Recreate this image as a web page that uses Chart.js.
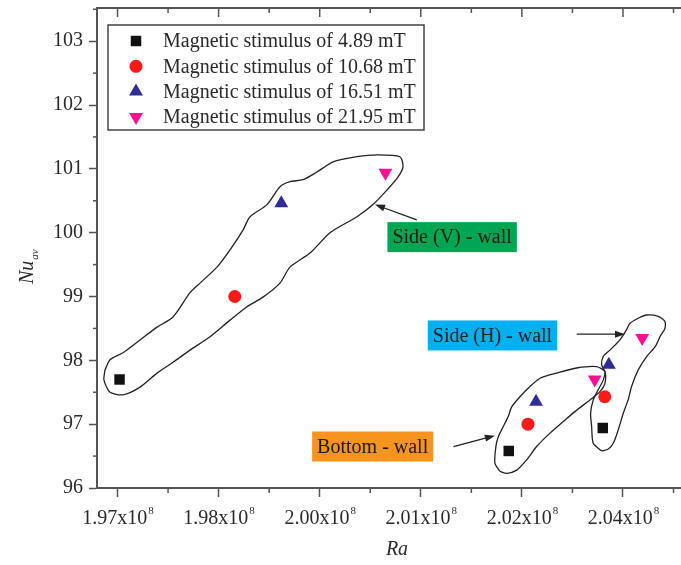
<!DOCTYPE html>
<html>
<head>
<meta charset="utf-8">
<script src="https://cdn.jsdelivr.net/npm/chart.js@4.4.1/dist/chart.umd.min.js"></script>
<style>
body{margin:0;background:#fff}
canvas{display:block}
</style>
</head>
<body>
<canvas id="myNuChart" width="681" height="565"></canvas>
<script>
// Ra axis runs in plot units, labels are the ones printed on the figure
const xTickValues = [1.97, 1.98, 1.99, 2.00, 2.01, 2.02];
const xTickLabels = ['1.97x10', '1.98x10', '2.00x10', '2.01x10', '2.02x10', '2.04x10'];
const xTickExp = '8';
const xMinorTicks = [1.975, 1.985, 1.995, 2.005, 2.015, 2.025];
const yTickValues = [96, 97, 98, 99, 100, 101, 102, 103];
const yMinorTicks = [96.5, 97.5, 98.5, 99.5, 100.5, 101.5, 102.5, 103.5];

const seriesNames = ['Magnetic stimulus of 4.89 mT', 'Magnetic stimulus of 10.68 mT',
    'Magnetic stimulus of 16.51 mT', 'Magnetic stimulus of 21.95 mT'];
// each series: side (V) wall, bottom wall, side (H) wall
const ra489 = [1.9702, 2.0087, 2.0180];
const nu489 = [97.70, 96.58, 96.94];
const ra1068 = [1.9816, 2.0106, 2.0182];
const nu1068 = [99.00, 97.00, 97.43];
const ra1651 = [1.9862, 2.0114, 2.0186];
const nu1651 = [100.46, 97.35, 97.93];
const ra2195 = [1.9965, 2.0172, 2.0219];
const nu2195 = [100.94, 97.70, 98.35];

// hand drawn outlines round each wall group
const sideVRa = [1.96876, 1.96926, 1.97054, 1.97223, 1.97391, 1.97549, 1.97717, 1.97816, 1.97984, 1.98113,
    1.98241, 1.98311, 1.98479, 1.98607, 1.98706, 1.98835, 1.98973, 1.99132, 1.99369, 1.99567,
    1.99794, 1.99824, 1.99774, 1.99666, 1.99527, 1.99369, 1.99102, 1.98904, 1.98706, 1.98607,
    1.98439, 1.98281, 1.98113, 1.97915, 1.97717, 1.97549, 1.97391, 1.97223, 1.97054, 1.96926,
    1.96866, 1.96876];
const sideVNu = [97.85, 98.01, 98.12, 98.32, 98.52, 98.68, 99.06, 99.21, 99.46, 99.73,
    100.04, 100.25, 100.44, 100.72, 100.80, 100.83, 100.95, 101.11, 101.19, 101.22,
    101.19, 101.03, 100.87, 100.67, 100.44, 100.25, 100.00, 99.68, 99.46, 99.21,
    98.99, 98.84, 98.63, 98.37, 98.16, 97.97, 97.80, 97.58, 97.46, 97.50,
    97.69, 97.85];
const bottomRa = [2.00783, 2.00733, 2.00743, 2.00766, 2.00815, 2.00865, 2.00899, 2.00981, 2.01080, 2.01179,
    2.01344, 2.01542, 2.01740, 2.01822, 2.01822, 2.01772, 2.01674, 2.01542, 2.01409, 2.01278,
    2.01146, 2.01047, 2.00949, 2.00850, 2.00783];
const bottomNu = [96.26, 96.39, 96.65, 96.80, 96.96, 97.12, 97.27, 97.43, 97.59, 97.72,
    97.80, 97.88, 97.90, 97.82, 97.64, 97.51, 97.38, 97.22, 97.04, 96.86,
    96.65, 96.44, 96.28, 96.23, 96.26];
const sideHRa = [2.01789, 2.01706, 2.01690, 2.01680, 2.01706, 2.01755, 2.01805, 2.01822, 2.01789, 2.01805,
    2.01871, 2.01970, 2.02036, 2.02069, 2.02151, 2.02234, 2.02349, 2.02415, 2.02415, 2.02366,
    2.02317, 2.02234, 2.02151, 2.02085, 2.02051, 2.02003, 2.01953, 2.01904, 2.01855, 2.01789];
const sideHNu = [96.58, 96.70, 96.96, 97.17, 97.38, 97.54, 97.69, 97.82, 97.93, 98.06,
    98.16, 98.32, 98.48, 98.58, 98.66, 98.71, 98.69, 98.61, 98.50, 98.37,
    98.21, 98.06, 97.85, 97.59, 97.38, 97.17, 96.91, 96.70, 96.61, 96.58];

// wall labels and their arrows
const noteText = ['Side (V) - wall', 'Side (H) - wall', 'Bottom - wall'];
const noteRa = [2.00310, 2.00709, 1.99524];
const noteNu = [99.93, 98.39, 96.65];
const arrowFromRa = [1.99960, 2.01542, 2.00324];
const arrowFromNu = [100.20, 98.41, 96.65];
const arrowToRa = [1.99547, 2.02020, 2.00733];
const arrowToNu = [100.44, 98.41, 96.82];

const SERIF = "'Liberation Serif', 'Times New Roman', serif";
const AXIS = '#555';
const noteColors = ['#00a651', '#00b0f0', '#f7941d'];
const markerColors = ['#111111', '#ff1a1a', '#2e2e96', '#ff0f96'];
const markerStyles = ['rect', 'circle', 'triangle', 'triangle'];
const markerSizes = [7.4, 6.5, 8, 8];
const markerRot = [0, 0, 0, 180];

function pts(xs, ys) {
    return xs.map((x, i) => ({x: x, y: ys[i]}));
}

const markerData = [pts(ra489, nu489), pts(ra1068, nu1068), pts(ra1651, nu1651), pts(ra2195, nu2195)];
const datasets = [];
for (let i = 0; i < seriesNames.length; i++) {
    datasets.push({
        label: seriesNames[i],
        data: markerData[i],
        pointStyle: markerStyles[i],
        pointRadius: markerSizes[i],
        pointRotation: markerRot[i],
        backgroundColor: markerColors[i],
        borderColor: markerColors[i],
        borderWidth: 0,
        showLine: false
    });
}
[pts(sideVRa, sideVNu), pts(bottomRa, bottomNu), pts(sideHRa, sideHNu)].forEach(d => {
    datasets.push({
        label: 'outline',
        data: d,
        showLine: true,
        pointRadius: 0,
        borderColor: '#222',
        borderWidth: 1.3,
        tension: 0.25,
        fill: false
    });
});

const extras = {
    id: 'extras',
    afterDraw(chart) {
        const ctx = chart.ctx;
        const xs = chart.scales.x, ys = chart.scales.y;
        const a = chart.chartArea;
        ctx.save();
        ctx.strokeStyle = AXIS;
        ctx.lineWidth = 1.5;
        // minor ticks, outside on bottom and left
        xMinorTicks.forEach(v => {
            const px = xs.getPixelForValue(v);
            ctx.beginPath(); ctx.moveTo(px, a.bottom); ctx.lineTo(px, a.bottom + 5); ctx.stroke();
            ctx.beginPath(); ctx.moveTo(px, a.top); ctx.lineTo(px, a.top + 5); ctx.stroke();
        });
        xTickValues.forEach(v => {
            const px = xs.getPixelForValue(v);
            ctx.beginPath(); ctx.moveTo(px, a.top); ctx.lineTo(px, a.top + 9); ctx.stroke();
        });
        yMinorTicks.forEach(v => {
            const py = ys.getPixelForValue(v);
            ctx.beginPath(); ctx.moveTo(a.left, py); ctx.lineTo(a.left - 4, py); ctx.stroke();
        });

        // x tick labels with superscript exponent
        ctx.fillStyle = '#2a2a2a';
        ctx.textBaseline = 'alphabetic';
        ctx.textAlign = 'left';
        xTickValues.forEach((v, i) => {
            const px = xs.getPixelForValue(v);
            ctx.font = '20px ' + SERIF;
            const w1 = ctx.measureText(xTickLabels[i]).width;
            ctx.font = '11px ' + SERIF;
            const w2 = ctx.measureText(xTickExp).width;
            const x0 = px - (w1 + w2) / 2;
            ctx.font = '20px ' + SERIF;
            ctx.fillText(xTickLabels[i], x0, a.bottom + 36);
            ctx.font = '11px ' + SERIF;
            ctx.fillText(xTickExp, x0 + w1 + 1, a.bottom + 26);
        });

        // axis titles
        ctx.font = 'italic 20px ' + SERIF;
        ctx.textAlign = 'center';
        ctx.fillText('Ra', 397, 555);
        ctx.save();
        ctx.translate(33, 284);
        ctx.rotate(-Math.PI / 2);
        ctx.textAlign = 'left';
        ctx.fillText('Nu', 0, 0);
        const wn = ctx.measureText('Nu').width;
        ctx.font = 'italic 11px ' + SERIF;
        ctx.fillText('av', wn + 1, 5);
        ctx.restore();

        // arrows
        ctx.strokeStyle = '#222';
        ctx.fillStyle = '#222';
        ctx.lineWidth = 1.3;
        for (let i = 0; i < noteText.length; i++) {
            const x1 = xs.getPixelForValue(arrowFromRa[i]), y1 = ys.getPixelForValue(arrowFromNu[i]);
            const x2 = xs.getPixelForValue(arrowToRa[i]), y2 = ys.getPixelForValue(arrowToNu[i]);
            const ang = Math.atan2(y2 - y1, x2 - x1);
            ctx.beginPath(); ctx.moveTo(x1, y1);
            ctx.lineTo(x2 - 7 * Math.cos(ang), y2 - 7 * Math.sin(ang)); ctx.stroke();
            ctx.beginPath();
            ctx.moveTo(x2, y2);
            ctx.lineTo(x2 - 10 * Math.cos(ang) + 3.5 * Math.sin(ang), y2 - 10 * Math.sin(ang) - 3.5 * Math.cos(ang));
            ctx.lineTo(x2 - 10 * Math.cos(ang) - 3.5 * Math.sin(ang), y2 - 10 * Math.sin(ang) + 3.5 * Math.cos(ang));
            ctx.closePath(); ctx.fill();
        }

        // wall label boxes
        ctx.font = '20px ' + SERIF;
        ctx.textAlign = 'center';
        ctx.textBaseline = 'middle';
        for (let i = 0; i < noteText.length; i++) {
            const cx = xs.getPixelForValue(noteRa[i]), cy = ys.getPixelForValue(noteNu[i]);
            const w = ctx.measureText(noteText[i]).width + 10;
            ctx.fillStyle = noteColors[i];
            ctx.fillRect(cx - w / 2, cy - 15, w, 30);
            ctx.fillStyle = '#1a1a1a';
            ctx.fillText(noteText[i], cx, cy + 1);
        }

        // legend box
        const lx = 108, ly = 25, lw = 316, lh = 105;
        ctx.fillStyle = '#fff';
        ctx.fillRect(lx, ly, lw, lh);
        ctx.strokeStyle = '#444';
        ctx.lineWidth = 1.5;
        ctx.strokeRect(lx, ly, lw, lh);
        ctx.textAlign = 'left';
        for (let i = 0; i < seriesNames.length; i++) {
            const ry = ly + 16 + i * 25.3;
            ctx.fillStyle = markerColors[i];
            ctx.strokeStyle = markerColors[i];
            Chart.helpers.drawPoint(ctx, {pointStyle: markerStyles[i], radius: markerSizes[i],
                rotation: markerRot[i], borderWidth: 0}, lx + 28, ry);
            ctx.fillStyle = '#2a2a2a';
            ctx.fillText(seriesNames[i], lx + 55, ry + 1);
        }
        ctx.restore();
    }
};

const ctx = document.getElementById('myNuChart').getContext('2d');
new Chart(ctx, {
    type: 'scatter',
    data: {datasets: datasets},
    options: {
        responsive: false,
        animation: false,
        devicePixelRatio: 1,
        layout: {autoPadding: false, padding: 0},
        plugins: {legend: {display: false}, tooltip: {enabled: false}},
        scales: {
            x: {
                type: 'linear', position: 'bottom',
                min: 1.96797, max: 2.02574,
                afterBuildTicks: s => { s.ticks = xTickValues.map(v => ({value: v})); },
                afterFit: s => { s.height = 77; },
                ticks: {display: false},
                grid: {drawOnChartArea: false, tickLength: 9, tickColor: AXIS, tickWidth: 1.5},
                border: {color: AXIS, width: 2}
            },
            x2: {
                type: 'linear', position: 'top',
                min: 1.96797, max: 2.02574,
                afterFit: s => { s.height = 8; },
                ticks: {display: false},
                grid: {drawOnChartArea: false, drawTicks: false},
                border: {color: AXIS, width: 2}
            },
            y: {
                type: 'linear', position: 'left',
                min: 96, max: 103.52,
                afterBuildTicks: s => { s.ticks = yTickValues.map(v => ({value: v})); },
                afterFit: s => { s.width = 97; s.paddingTop = 0; s.paddingBottom = 0; },
                ticks: {
                    padding: 6, color: '#2a2a2a',
                    font: {family: SERIF, size: 20},
                    callback: v => String(v)
                },
                grid: {drawOnChartArea: false, tickLength: 8, tickColor: AXIS, tickWidth: 1.5},
                border: {color: AXIS, width: 2}
            }
        }
    },
    plugins: [extras]
});
</script>
</body>
</html>
